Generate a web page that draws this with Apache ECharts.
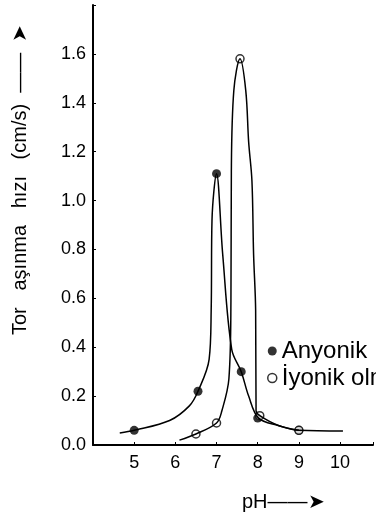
<!DOCTYPE html>
<html><head><meta charset="utf-8">
<script src="https://cdn.jsdelivr.net/npm/echarts@6/dist/echarts.min.js"></script>
<style>html,body{margin:0;padding:0;background:#fff}#c{width:376px;height:516px}</style>
</head><body><div id="c"></div>
<script>
// Marker values
const anyonikPH = [5, 6.55, 7, 7.6, 8, 9];
const anyonikRate = [0.06, 0.22, 1.11, 0.30, 0.11, 0.06];
const iyonikPH = [6.5, 7, 7.57, 8.05, 9];
const iyonikRate = [0.045, 0.09, 1.58, 0.12, 0.06];
// Hand-drawn curve paths
const anyonikCurvePH = [4.65, 5, 5.86, 6.34, 6.55, 6.82, 6.87, 6.89, 7, 7.15, 7.37, 7.6, 7.78, 8.02, 8.5, 9, 10.07];
const anyonikCurveRate = [0.049, 0.06, 0.10, 0.16, 0.22, 0.35, 0.55, 0.92, 1.11, 0.78, 0.39, 0.30, 0.20, 0.11, 0.08, 0.06, 0.057];
const iyonikCurvePH = [6.1, 6.5, 7, 7.13, 7.3, 7.35, 7.36, 7.42, 7.57, 7.71, 7.78, 7.86, 7.9, 7.95, 7.96, 8.05, 8.5, 9];
const iyonikCurveRate = [0.02, 0.045, 0.09, 0.14, 0.27, 0.59, 1.12, 1.45, 1.58, 1.45, 1.24, 1.08, 0.78, 0.55, 0.14, 0.12, 0.08, 0.06];
const yTicks = ['0.0','0.2','0.4','0.6','0.8','1.0','1.2','1.4','1.6'];
const xTicks = ['5','6','7','8','9','10'];

const zip = (a, b) => a.map((v, i) => [v, b[i]]);
const font = 'Liberation Sans';
const chart = echarts.init(document.getElementById('c'));
chart.setOption({
  animation: false,
  grid: {left: 93, top: 5, right: 1, bottom: 71},
  xAxis: {
    type: 'value', min: 4, max: 10.8, interval: 1,
    splitLine: {show: false},
    axisLine: {lineStyle: {color: '#000', width: 2}},
    axisTick: {inside: true, lineStyle: {color: '#000'}, length: 3},
    axisLabel: {color: '#000', fontSize: 18, fontFamily: font, margin: 9,
      formatter: v => xTicks.includes(String(v)) ? String(v) : ''}
  },
  yAxis: {
    type: 'value', min: 0, max: 1.8, interval: 0.2,
    splitLine: {show: false},
    axisLine: {show: true, lineStyle: {color: '#000', width: 2}},
    axisTick: {show: true, inside: true, lineStyle: {color: '#000'}, length: 3},
    axisLabel: {color: '#000', fontSize: 18, fontFamily: font, margin: 7,
      formatter: v => { const s = v.toFixed(1); return yTicks.includes(s) ? s : ''; }}
  },
  legend: {
    orient: 'vertical', left: 267, top: 338, itemGap: 1, itemWidth: 9, itemHeight: 9,
    padding: 0,
    textStyle: {color: '#000', fontSize: 24, fontFamily: font, lineHeight: 26, padding: [0, 0, 0, 0]},
    data: [
      {name: 'Anyonik', icon: 'circle', itemStyle: {color: '#000'}},
      {name: 'İyonik olmayan', icon: 'circle', itemStyle: {color: '#fff', borderColor: '#000', borderWidth: 1.5}}
    ]
  },
  series: [
    {type: 'line', data: zip(anyonikCurvePH, anyonikCurveRate), smooth: 0.35, symbol: 'none',
      lineStyle: {color: '#000', width: 1.5}, silent: true},
    {type: 'line', data: zip(iyonikCurvePH, iyonikCurveRate), smooth: 0.35, symbol: 'none',
      lineStyle: {color: '#000', width: 1.5}, silent: true},
    {name: 'Anyonik', type: 'scatter', data: zip(anyonikPH, anyonikRate), symbol: 'circle', symbolSize: 9,
      itemStyle: {color: '#000'}},
    {name: 'İyonik olmayan', type: 'scatter', data: zip(iyonikPH, iyonikRate), symbol: 'circle', symbolSize: 8,
      itemStyle: {color: '#fff', borderColor: '#000', borderWidth: 1.5}}
  ],
  graphic: [
    {type: 'text', x: 20, y: 335, rotation: Math.PI / 2,
      style: {text: 'Tor   aşınma   hızı   (cm/s)  ——  ➤', fontSize: 20, fontFamily: font, fill: '#000',
        align: 'left', verticalAlign: 'middle'}},
    {type: 'text', x: 242, y: 502,
      style: {text: 'pH——➤', fontSize: 20, fontFamily: font, fill: '#000', align: 'left', verticalAlign: 'middle'}}
  ]
});
</script></body></html>
